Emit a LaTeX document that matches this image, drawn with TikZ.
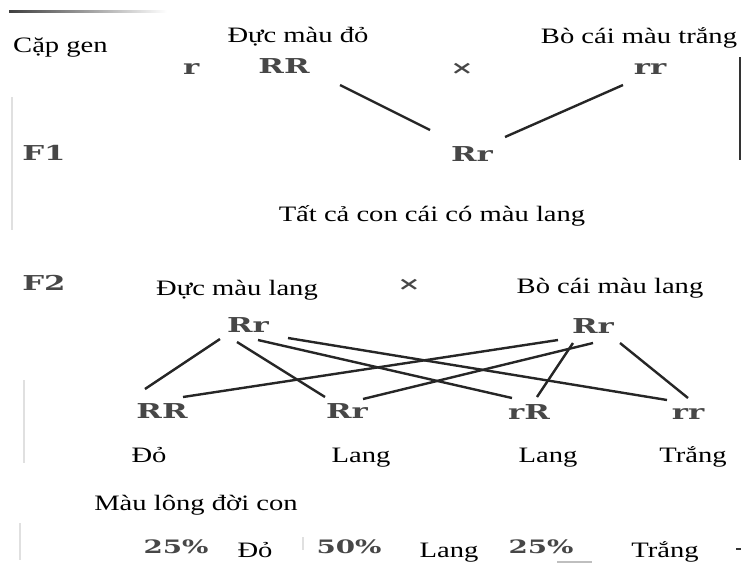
\documentclass[tikz,border=0pt]{standalone}
\usepackage{fontspec}
\newfontfamily\bodyfont[FakeStretch=1.3]{Liberation Serif}
\newfontfamily\genofont[FakeStretch=1.5]{DejaVu Serif}
\begin{document}
\begin{tikzpicture}[x=1pt,y=-1pt,
  txt/.style={font=\bodyfont\fontsize{22}{26}\selectfont, inner sep=0pt, anchor=base},
  geno/.style={font=\genofont\bfseries\fontsize{20.5}{24}\selectfont, text=black!72, inner sep=0pt, anchor=base},
  pct/.style={geno, font=\genofont\bfseries\fontsize{18.5}{22}\selectfont},
  link/.style={line width=2.4pt, draw=black!85},
  artifact/.style={line width=1.2pt, draw=black!12}]
\useasboundingbox[fill=white] (0,0) rectangle (743,566);

% scan artifacts
\shade[left color=black!75, right color=white] (9,10) rectangle (167,12.5);
\draw[line width=1.6pt, black!80] (740,57) -- (740,160);
\draw[artifact] (12,97) -- (12,230);
\draw[artifact] (24,380) -- (24,463);
\draw[artifact] (20,523) -- (20,560);
\draw[artifact] (303,537) -- (303,550);
\draw[line width=1.5pt, black!25] (557,562) -- (592,562);
\draw[line width=2pt, black!80] (736,549) -- (741,549);

% P generation
\node[txt, anchor=base west] (capgen) at (13,52) {Cặp gen};
\node[txt] (ducdo) at (298,42) {Đực màu đỏ};
\node[txt] (botrang) at (639,43) {Bò cái màu trắng};
\node[geno, anchor=base west] (frag) at (183,74) {r};
\node[geno] (pRR) at (284,73) {RR};
\node[pct] (px) at (462,74) {×};
\node[geno] (prr) at (650,74) {rr};

% F1
\node[geno] (f1) at (44,160) {F1};
\node[geno] (f1Rr) at (472,161) {Rr};
\draw[link] ([shift={(56,12)}]pRR.base) -- ([shift={(-42,-31)}]f1Rr.base);
\draw[link] ([shift={(-27,11)}]prr.base) -- ([shift={(33,-24)}]f1Rr.base);
\node[txt] (tatca) at (432,221) {Tất cả con cái có màu lang};

% F2
\node[geno] (f2) at (44,290) {F2};
\node[txt] (duclang) at (237,295) {Đực màu lang};
\node[pct] (f2x) at (409,290) {×};
\node[txt] (bolang) at (610,293) {Bò cái màu lang};
\node[geno] (lRr) at (248,332) {Rr};
\node[geno] (rRr) at (593,333) {Rr};

\node[geno] (oRR) at (162,418) {RR};
\node[geno] (oRr) at (347,418) {Rr};
\node[geno] (orR) at (529,419) {rR};
\node[geno] (orr) at (688,419) {rr};

\draw[link] ([shift={(-28,7)}]lRr.base) -- ([shift={(-17,-29)}]oRR.base);
\draw[link] ([shift={(-11,10)}]lRr.base) -- ([shift={(-22,-21)}]oRr.base);
\draw[link] ([shift={(10,8)}]lRr.base) -- ([shift={(-17,-21)}]orR.base);
\draw[link] ([shift={(40,6)}]lRr.base) -- ([shift={(-21,-19)}]orr.base);
\draw[link] ([shift={(-35,7)}]rRr.base) -- ([shift={(21,-21)}]oRR.base);
\draw[link] ([shift={(0,10)}]rRr.base) -- ([shift={(16,-19)}]oRr.base);
\draw[link] ([shift={(-20,10)}]rRr.base) -- ([shift={(8,-22)}]orR.base);
\draw[link] ([shift={(27,10)}]rRr.base) -- ([shift={(0,-21)}]orr.base);

\node[txt] (pdo) at (149,462) {Đỏ};
\node[txt] (plang1) at (361,462) {Lang};
\node[txt] (plang2) at (548,462) {Lang};
\node[txt] (ptrang) at (693,462) {Trắng};

% ratios
\node[txt] (maulong) at (196,510) {Màu lông đời con};
\node[pct] (r1) at (176,553) {25\%};
\node[txt] (rdo) at (255,557) {Đỏ};
\node[pct] (r2) at (349,553) {50\%};
\node[txt] (rlang) at (449,557) {Lang};
\node[pct] (r3) at (541,553) {25\%};
\node[txt] (rtrang) at (665,557) {Trắng};
\end{tikzpicture}
\end{document}
